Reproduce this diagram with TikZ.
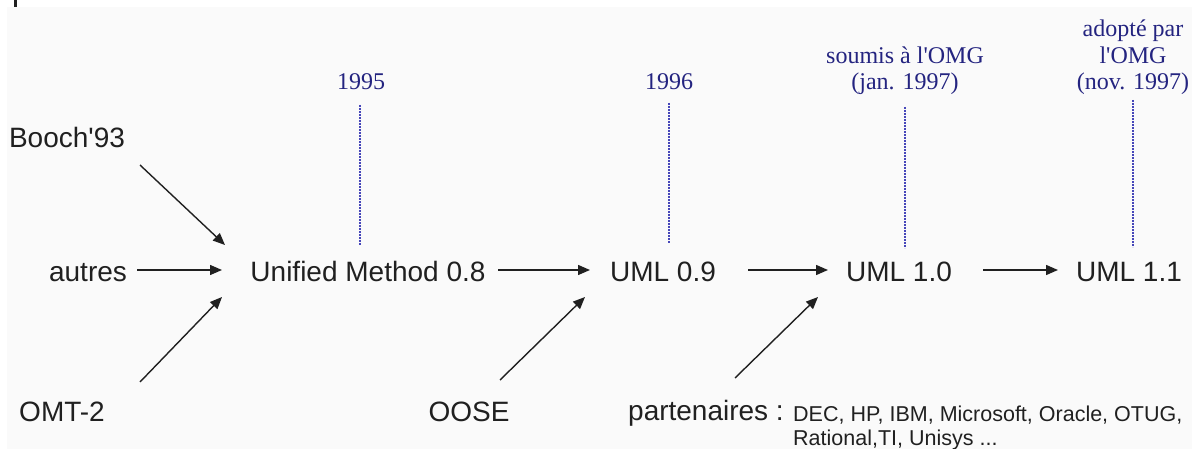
\documentclass[tikz,border=0pt]{standalone}
\usepackage{fontspec}
\setmainfont{Liberation Sans}
\newfontfamily\labelserif{Liberation Serif}
\usetikzlibrary{arrows.meta,calc}
\definecolor{bgc}{RGB}{250,250,250}
\definecolor{ink}{RGB}{32,32,32}
\definecolor{navy}{RGB}{36,36,128}
\definecolor{tickblue}{RGB}{70,70,185}
\tikzset{
  stage/.style={inner sep=0pt, anchor=base, text=ink, font=\fontsize{28}{32}\selectfont},
  source/.style={stage},
  milestone/.style={inner sep=0pt, anchor=base, text=navy, align=center,
    font=\labelserif\fontsize{24}{26.5}\selectfont},
  partners/.style={inner sep=0pt, anchor=base west, text=ink, align=left,
    font=\fontsize{21.5}{24}\selectfont},
  arr/.style={draw=ink, line width=1.4pt, -{Triangle[length=12pt,width=10pt]}},
  tick/.style={draw=tickblue, line width=2pt, dash pattern=on 2pt off 1pt},
}
\begin{document}
\begin{tikzpicture}[x=1pt, y=-1pt]
  \useasboundingbox (0,0) rectangle (1192,449);
  \fill[bgc] (7,7) rectangle (1192,449);
  \fill[ink] (14,0) rectangle (17,7);

  % sources
  \node[source] (booch)  at (67,148)  {Booch\textquotesingle 93};
  \node[source] (autres) at (88,282)  {autres};
  \node[source] (omt)    at (62,421)  {OMT-2};
  \node[source] (oose)   at (469,421) {OOSE};
  \node[source] (part)   at (706,420) {partenaires :};
  % base anchor of a two-line node sits on its last line
  \node[partners] (plist) at (793,445)
    {DEC, HP, IBM, Microsoft, Oracle, OTUG,\\Rational,TI, Unisys ...};

  % versions
  \node[stage] (um)    at (368,282)  {Unified Method 0.8};
  \node[stage] (uml09) at (663,282)  {UML 0.9};
  \node[stage] (uml10) at (899,282)  {UML 1.0};
  \node[stage] (uml11) at (1129,282) {UML 1.1};

  % milestones (base = last line)
  \node[milestone] (y1995) at (361,90)  {1995};
  \node[milestone] (y1996) at (669,90)  {1996};
  \node[milestone] (omg1)  at (905,90)  {soumis à l'OMG\\(jan. 1997)};
  \node[milestone] (omg2)  at (1133,90) {adopté par\\l'OMG\\(nov. 1997)};

  \draw[tick] ($(y1995.base)+(-1,15)$) -- ++(0,140);
  \draw[tick] ($(y1996.base)+(0,13)$)  -- ++(0,140);
  \draw[tick] ($(omg1.base)+(0,17)$)   -- ++(0,141);
  \draw[tick] ($(omg2.base)+(0,10)$)   -- ++(0,147);

  % flow
  \draw[arr] ($(booch.base)+(73,17)$)  -- ($(um.base)+(-143,-37)$);
  \draw[arr] ($(autres.base)+(49,-12)$) -- ($(um.base)+(-146,-12)$);
  \draw[arr] ($(omt.base)+(78,-39)$)   -- ($(um.base)+(-146,15)$);
  \draw[arr] ($(um.base)+(130,-12)$)   -- ($(uml09.base)+(-73,-12)$);
  \draw[arr] ($(oose.base)+(31,-41)$)  -- ($(uml09.base)+(-78,15)$);
  \draw[arr] ($(uml09.base)+(85,-12)$) -- ($(uml10.base)+(-71,-12)$);
  \draw[arr] ($(part.base)+(29,-42)$)  -- ($(uml10.base)+(-81,15)$);
  \draw[arr] ($(uml10.base)+(84,-12)$) -- ($(uml11.base)+(-71,-12)$);
\end{tikzpicture}
\end{document}
